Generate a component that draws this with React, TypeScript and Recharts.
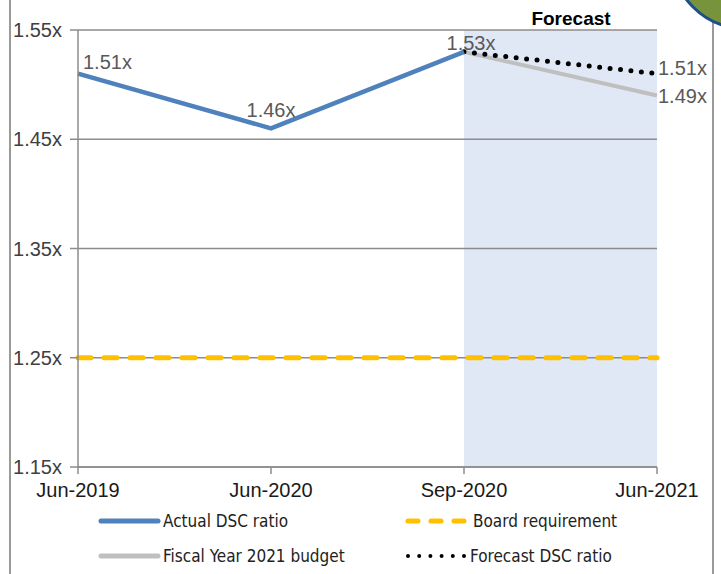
import { LabelList, Line, LineChart, ReferenceArea, ReferenceLine, XAxis, YAxis } from "recharts";

const months = ["Jun-2019", "Jun-2020", "Sep-2020", "Jun-2021"];
const actual = [1.51, 1.46, 1.53, null];
const budget = [null, null, 1.53, 1.49];
const forecast = [null, null, 1.53, 1.51];
const board = [1.25, 1.25, 1.25, 1.25];
const yTicks = [1.15, 1.25, 1.35, 1.45, 1.55];

const data = months.map((m, i) => ({
  month: m,
  actual: actual[i],
  budget: budget[i],
  forecast: forecast[i],
  board: board[i],
}));

const FONT = "'Liberation Sans', Arial, sans-serif";
const NARROW = "'Liberation Sans Narrow', 'DejaVu Sans Condensed', sans-serif";
const GRID = "#8c8c8c";

const fmt = (v: number) => `${v.toFixed(2)}x`;

// label placement per point of the actual line
const actualLabel = (p: any) => {
  const { x, y, index, value } = p;
  if (value == null) return null;
  const pos = [
    { dx: 5, dy: -5, anchor: "start" },
    { dx: 0, dy: -11, anchor: "middle" },
    { dx: 7, dy: -2, anchor: "middle" },
  ][index];
  if (!pos) return null;
  return (
    <text x={x + pos.dx} y={y + pos.dy} textAnchor={pos.anchor} fontSize={20} fill="#595959" fontFamily={FONT}>
      {fmt(value)}
    </text>
  );
};

const endLabel = (dy: number) => (p: any) => {
  const { x, y, index, value } = p;
  if (index !== 3 || value == null) return null;
  return (
    <text x={x + 1} y={y + dy} textAnchor="start" fontSize={20} fill="#595959" fontFamily={FONT}>
      {fmt(value)}
    </text>
  );
};

function Legend() {
  const t = { fontSize: 17, fill: "#222", fontFamily: NARROW };
  return (
    <svg width={721} height={574} style={{ position: "absolute", left: 0, top: 0, pointerEvents: "none" }}>
      <line x1={101} x2={158} y1={521} y2={521} stroke="#4f81bd" strokeWidth={5} strokeLinecap="round" />
      <text x={163} y={527} {...t}>Actual DSC ratio</text>
      <line x1={408} x2={468} y1={521} y2={521} stroke="#ffc000" strokeWidth={5} strokeLinecap="round" strokeDasharray="10 13" />
      <text x={473} y={527} {...t}>Board requirement</text>
      <line x1={101} x2={158} y1={556} y2={556} stroke="#bfbfbf" strokeWidth={5} strokeLinecap="round" />
      <text x={163} y={562} {...t}>Fiscal Year 2021 budget</text>
      <line x1={408} x2={464} y1={556} y2={556} stroke="#000" strokeWidth={4} strokeLinecap="round" strokeDasharray="0 11.2" />
      <text x={470} y={562} {...t}>Forecast DSC ratio</text>
      <text x={571} y={25} textAnchor="middle" fontSize={19} fontWeight="bold" fill="#000" fontFamily={FONT}>
        Forecast
      </text>
    </svg>
  );
}

export default function App() {
  return (
    <div style={{ position: "relative", width: 721, height: 574, overflow: "hidden", background: "#fff" }}>
      <style>{`body{margin:0}`}</style>
      <div style={{ position: "absolute", left: 9, top: 0, width: 2, height: 574, background: "#9a9a9a" }} />
      <div style={{ position: "absolute", left: 712, top: 0, width: 2, height: 574, background: "#9a9a9a" }} />
      <LineChart
        width={721}
        height={574}
        data={data}
        margin={{ top: 30, right: 64, left: 10, bottom: 67 }}
        style={{ position: "absolute", left: 0, top: 0, fontFamily: FONT }}
      >
        <ReferenceArea x1="Sep-2020" x2="Jun-2021" y1={1.15} y2={1.55} fill="#dfe8f4" fillOpacity={1} stroke="none" />
        {yTicks.map((v) => (
          <ReferenceLine key={v} y={v} stroke={GRID} strokeWidth={1.5} />
        ))}
        <XAxis
          dataKey="month"
          interval={0}
          padding={{ left: 0, right: 0 }}
          height={40}
          tickSize={7}
          tickMargin={9}
          tick={{ fontSize: 20, fill: "#1a1a1a" }}
          axisLine={{ stroke: GRID, strokeWidth: 1.5 }}
          tickLine={{ stroke: GRID, strokeWidth: 1.5 }}
        />
        <YAxis
          domain={[1.15, 1.55]}
          ticks={yTicks}
          width={68}
          tickSize={8}
          tickMargin={8}
          tickFormatter={fmt}
          tick={{ fontSize: 20, fill: "#404040" }}
          axisLine={{ stroke: GRID, strokeWidth: 1.5 }}
          tickLine={{ stroke: GRID, strokeWidth: 1.5 }}
        />
        <Line
          dataKey="board"
          stroke="#ffc000"
          strokeWidth={5}
          strokeDasharray="13 13"
          strokeLinecap="round"
          dot={false}
          activeDot={false}
          isAnimationActive={false}
        />
        <Line
          dataKey="budget"
          stroke="#bfbfbf"
          strokeWidth={4}
          dot={false}
          activeDot={false}
          isAnimationActive={false}
        >
          <LabelList dataKey="budget" content={endLabel(7)} />
        </Line>
        <Line
          dataKey="forecast"
          stroke="#000"
          strokeWidth={5}
          strokeDasharray="0 10.5"
          strokeLinecap="round"
          dot={false}
          activeDot={false}
          isAnimationActive={false}
        >
          <LabelList dataKey="forecast" content={endLabel(1)} />
        </Line>
        <Line
          dataKey="actual"
          stroke="#4f81bd"
          strokeWidth={4.5}
          dot={false}
          activeDot={false}
          isAnimationActive={false}
        >
          <LabelList dataKey="actual" content={actualLabel} />
        </Line>
      </LineChart>
      <Legend />
      <div
        style={{
          position: "absolute",
          left: 670,
          top: -120,
          width: 150,
          height: 150,
          borderRadius: "50%",
          background: "#77933c",
          border: "3px solid #1f4e8c",
          boxSizing: "border-box",
        }}
      />
    </div>
  );
}
